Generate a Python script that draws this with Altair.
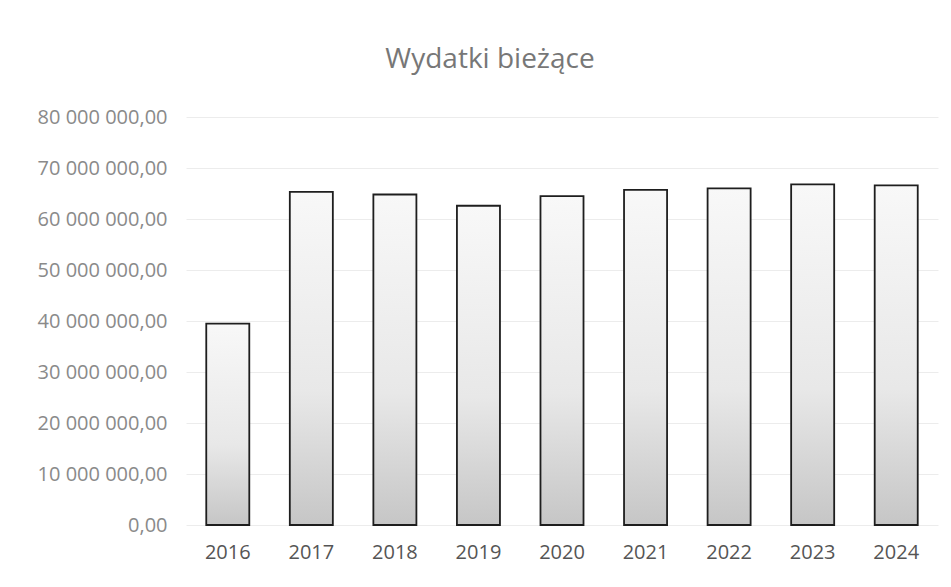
import altair as alt
import pandas as pd

years = ["2016", "2017", "2018", "2019", "2020", "2021", "2022", "2023", "2024"]
values = [39500000, 65300000, 64800000, 62600000, 64500000, 65700000, 66000000, 66800000, 66600000]
y_ticks = [0, 10000000, 20000000, 30000000, 40000000, 50000000, 60000000, 70000000, 80000000]

df = pd.DataFrame({"rok": years, "wydatki": values})

fill = alt.Gradient(
    gradient="linear",
    stops=[alt.GradientStop(color="#f8f8f8", offset=0),
           alt.GradientStop(color="#e8e8e8", offset=0.6),
           alt.GradientStop(color="#c6c6c6", offset=1)],
    x1=0, x2=0, y1=0, y2=1,
)

chart = alt.Chart(df).mark_bar(
    fill=fill, stroke="#1e1e1e", strokeWidth=1.8
).encode(
    x=alt.X("rok:N", sort=years, title=None,
            scale=alt.Scale(paddingInner=0.485, paddingOuter=0.2425),
            axis=alt.Axis(labelAngle=0, domain=False, ticks=False,
                          labelFont="Open Sans", labelFontSize=20,
                          labelColor="#555555", labelPadding=17)),
    y=alt.Y("wydatki:Q", title=None,
            scale=alt.Scale(domain=[0, 80000000]),
            axis=alt.Axis(values=y_ticks, format=",.2f", domain=False, ticks=False,
                          labelFont="Open Sans", labelFontSize=20,
                          labelColor="#8a8a8a", labelPadding=19,
                          gridColor="#ececec", gridWidth=1)),
).properties(
    width=752,
    height=408,
    title=alt.TitleParams("Wydatki bieżące", font="Open Sans", fontSize=28,
                          fontWeight="normal", color="#777777",
                          anchor="middle", dx=-72, offset=33),
    autosize="none",
    padding={"left": 178, "top": 109, "right": 5, "bottom": 40},
).configure_view(stroke=None)

chart.save("out.html", embed_options={
    "renderer": "svg", "actions": False,
    "formatLocale": {"decimal": ",", "thousands": " ", "grouping": [3], "currency": ["", " zł"]},
})
